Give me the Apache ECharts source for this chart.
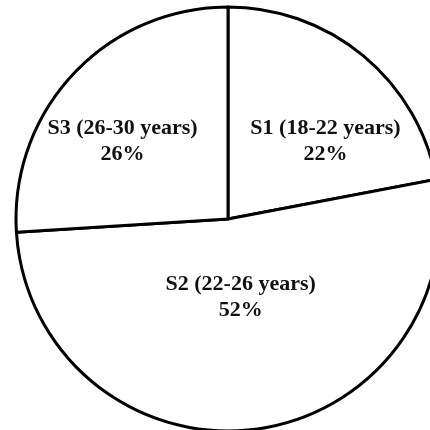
<!DOCTYPE html>
<html>
<head>
<meta charset="utf-8">
<script src="https://cdn.jsdelivr.net/npm/echarts@6/dist/echarts.min.js"></script>
<style>
  html, body { margin: 0; padding: 0; background: #fff; }
  #chart { width: 430px; height: 430px; }
</style>
</head>
<body>
<div id="chart"></div>
<script>
// age groups, clockwise from 12 o'clock
const groups = ['S1 (18-22 years)', 'S2 (22-26 years)', 'S3 (26-30 years)']
const shares = [22, 52, 26]

// nudge the inside labels to where they sit in the picture
const labelOffsets = [[28, 6], [-1, -30], [-26, -3]]

const chart = echarts.init(document.getElementById('chart'))

chart.setOption({
  animation: false,
  backgroundColor: '#fff',
  series: [{
    type: 'pie',
    center: [228, 219],
    radius: 212,
    startAngle: 90,
    clockwise: true,
    silent: true,
    itemStyle: {
      color: '#fff',
      borderColor: '#000',
      borderWidth: 3
    },
    label: {
      show: true,
      position: 'inside',
      formatter: p => p.name + '\n' + p.value + '%',
      fontFamily: 'Liberation Serif',
      fontWeight: 'bold',
      fontSize: 22,
      lineHeight: 26,
      color: '#111',
      align: 'center'
    },
    labelLine: { show: false },
    data: groups.map((name, i) => ({
      name,
      value: shares[i],
      label: { offset: labelOffsets[i] }
    }))
  }]
})
</script>
</body>
</html>
